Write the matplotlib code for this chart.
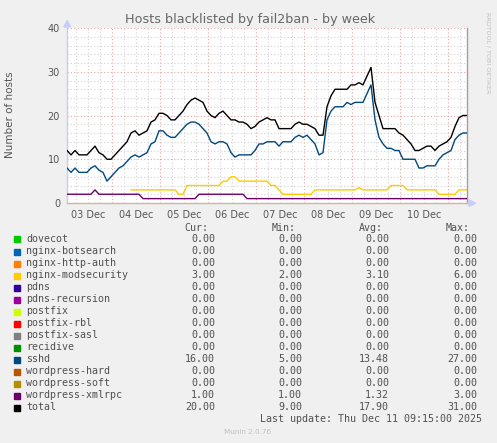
import numpy as np
import matplotlib
matplotlib.use("Agg")
import matplotlib.pyplot as plt
from matplotlib.patches import Rectangle, Polygon

W, H = 497, 443

# values every 2 hours, first sample Dec 3 01:30
total = [12, 11, 12, 11, 11, 11, 12, 13, 11.5, 11,
         10, 10, 11, 12, 13, 14, 16, 16.5, 15.5, 16,
         16.5, 18.5, 19, 20.5, 20.5, 20, 19, 19, 20, 21,
         22.5, 23.5, 24, 23.5, 23, 21, 20, 19.5, 20.5, 21,
         20, 19, 19, 18.5, 18.5, 18, 17, 17.5, 18.5, 19,
         19.5, 19, 19, 17, 17, 17, 17, 18, 18.5, 18,
         18, 17.5, 17, 15.5, 15.5, 22, 24.5, 26, 26, 26,
         26, 27, 27, 27.5, 27, 29, 31, 23, 20, 17,
         17, 17, 17, 16, 15.5, 14.5, 13.5, 12, 12, 12.5,
         13, 13, 12, 13, 13.5, 14, 15, 17.5, 19.5, 20,
         20]
sshd = [8, 7, 8, 7, 7, 7, 8, 8.5, 7.5, 7,
        5, 6, 7, 8, 8.5, 9.5, 10.5, 11, 10.5, 11,
        11.5, 13.5, 14, 16.5, 16.5, 15.5, 15, 15, 16, 17,
        18, 18.5, 18.5, 18, 17, 16, 14, 13.5, 14, 14,
        13.5, 11.5, 10.5, 11, 11, 11, 11, 12, 13.5, 13.5,
        14, 14, 14, 13, 14, 14, 14, 15, 15.5, 15,
        15.5, 14.5, 13.5, 11, 11.5, 19, 21, 22, 22, 22,
        23, 22.5, 23, 23, 23, 25, 27, 19, 15, 13.5,
        12.5, 12.5, 12, 12, 10, 10, 10, 10, 8, 8,
        8.5, 8.5, 8.5, 10, 11, 11.5, 12, 14.5, 15.5, 16,
        16]
nan = float("nan")
modsec = ([nan] * 16 + [3] * 12 + [2] * 2 + [4] * 9 + [5] * 2 + [6] * 2
          + [5] * 8 + [4] * 2 + [3] + [2] * 8
          + [3] * 11 + [3.5] + [3] * 7 + [4] * 4 + [3] * 8 + [2] * 5 + [3] * 3)
xmlrpc = [2] * 7 + [3] + [2] * 11 + [1] * 14 + [2] * 12 + [1] * 56

names = ["dovecot", "nginx-botsearch", "nginx-http-auth", "nginx-modsecurity",
         "pdns", "pdns-recursion", "postfix", "postfix-rbl", "postfix-sasl",
         "recidive", "sshd", "wordpress-hard", "wordpress-soft",
         "wordpress-xmlrpc", "total"]
colours = ["#00CC00", "#0066B3", "#FF8000", "#FFCC00", "#330099", "#990099",
           "#CCFF00", "#FF0000", "#808080", "#008F00", "#00487D", "#B35A00",
           "#B38F00", "#6B006B", "#000000"]
cur = [0, 0, 0, 3, 0, 0, 0, 0, 0, 0, 16, 0, 0, 1, 20]
mins = [0, 0, 0, 2, 0, 0, 0, 0, 0, 0, 5, 0, 0, 1, 9]
avgs = [0, 0, 0, 3.10, 0, 0, 0, 0, 0, 0, 13.48, 0, 0, 1.32, 17.90]
maxs = [0, 0, 0, 6, 0, 0, 0, 0, 0, 0, 27, 0, 0, 3, 31]
day_labels = ["03 Dec", "04 Dec", "05 Dec", "06 Dec", "07 Dec", "08 Dec",
              "09 Dec", "10 Dec"]

hours = 1.5 + 2 * np.arange(len(total))

fig = plt.figure(figsize=(W / 100, H / 100), dpi=100, facecolor="#F0F0F0")
ax = fig.add_axes([67 / W, 1 - 203 / H, 400 / W, 175 / H])
ax.set_facecolor("white")
ax.set_xlim(1.5, 201.5)
ax.set_ylim(0, 40)

# grid
dots = (0, (1, 2))
for h in np.arange(6, 201, 6):
    c = "#E5A5A5" if h % 24 == 0 else "#D2D2D2"
    ax.axvline(h, color=c, lw=0.8, ls=dots, zorder=1)
for v in np.arange(2, 41, 2):
    c = "#E5A5A5" if v % 10 == 0 else "#D2D2D2"
    ax.axhline(v, color=c, lw=0.8, ls=dots, zorder=1)

series = {"nginx-modsecurity": modsec, "sshd": sshd,
          "wordpress-xmlrpc": xmlrpc, "total": total}
for name, col in zip(names, colours):
    if name in series:
        ax.plot(hours, series[name], color=col, lw=1.0, zorder=3)

ax.set_yticks([0, 10, 20, 30, 40])
ax.set_xticks(12 + 24 * np.arange(len(day_labels)))
ax.set_xticklabels(day_labels)
ax.tick_params(length=0, labelsize=7, colors="#555555", pad=5)

for s in ["top"]:
    ax.spines[s].set_visible(False)
ax.spines["left"].set_color("#C8CCF4")
ax.spines["right"].set_color("#A0A0A0")
ax.spines["bottom"].set_color("#C8B8A4")
for s in ["left", "right", "bottom"]:
    ax.spines[s].set_linewidth(1.0)


def fp(x, y):
    return (x / W, 1 - y / H)


# axis arrows
fig.add_artist(Polygon([fp(64, 27), fp(70.5, 27), fp(67.2, 20.5)],
                       closed=True, color="#C8CCF8", transform=fig.transFigure))
fig.add_artist(Polygon([fp(469, 200), fp(469, 206.5), fp(475.5, 203.2)],
                       closed=True, color="#C8CCF8", transform=fig.transFigure))

fig.text(250 / W, 1 - 19 / H, "Hosts blacklisted by fail2ban - by week",
         ha="center", va="center", fontsize=9.2, color="#666666")
fig.text(10.5 / W, 1 - 115 / H, "Number of hosts", rotation=90,
         ha="center", va="center", fontsize=7.5, color="#555555")
fig.text(488 / W, 1 - 53 / H, "RRDTOOL / TOBI OETIKER", rotation=270,
         ha="center", va="center", fontsize=4.6, color="#C0C0C0")

# legend
mono = "DejaVu Sans Mono"
tc = "#505050"
fs = 7.2
for xr, hd in zip([208, 296, 383, 470], ["Cur:", "Min:", "Avg:", "Max:"]):
    fig.text(xr / W, 1 - 228 / H, hd, ha="right", va="center",
             family=mono, fontsize=fs, color=tc)
for i, name in enumerate(names):
    yc = 239.5 + 12 * i
    fig.add_artist(Rectangle(fp(14, yc + 3), 6 / W, 6 / H, color=colours[i],
                             transform=fig.transFigure))
    fig.text(26 / W, 1 - yc / H, name, ha="left", va="center",
             family=mono, fontsize=fs, color=tc)
    for xr, val in zip([215, 302, 389, 477],
                       [cur[i], mins[i], avgs[i], maxs[i]]):
        fig.text(xr / W, 1 - yc / H, "%.2f" % val, ha="right", va="center",
                 family=mono, fontsize=fs, color=tc)

fig.text(482 / W, 1 - 419.5 / H, "Last update: Thu Dec 11 09:15:00 2025",
         ha="right", va="center", family=mono, fontsize=fs, color=tc)
fig.text(248 / W, 1 - 432 / H, "Munin 2.0.76", ha="center", va="center",
         fontsize=5.2, color="#C0C0C0")

fig.savefig("out.png", dpi=100, facecolor=fig.get_facecolor())
